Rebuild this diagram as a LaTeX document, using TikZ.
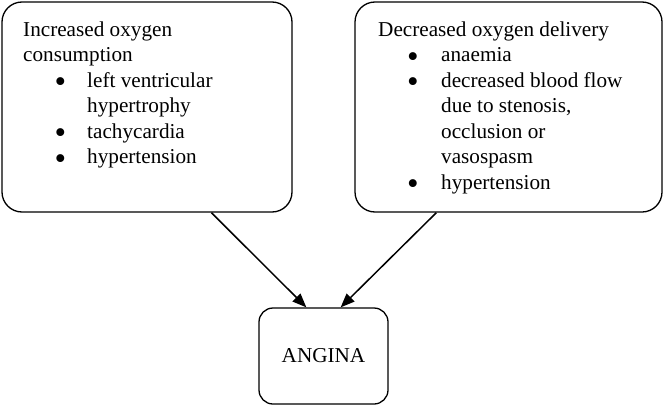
\documentclass[tikz,border=0pt]{standalone}
\usepackage{fontspec}
\setmainfont{Liberation Serif}
\usetikzlibrary{arrows.meta}
\newcommand{\blt}{\smash{\textbullet}}
\begin{document}
\begin{tikzpicture}[x=1pt,y=-1pt,
  box/.style={draw, line width=1.3pt, rounded corners=20pt, inner sep=0pt},
  txt/.style={anchor=base west, inner sep=0pt, font=\fontsize{21.2pt}{25.5pt}\selectfont},
  bul/.style={anchor=base, inner sep=0pt, yshift=-5.5pt, font=\fontsize{33pt}{33pt}\selectfont},
  arr/.style={line width=1.5pt, -{Triangle[length=14pt,width=11pt]}}]
\useasboundingbox (0,0) rectangle (664,407);
\node[box, minimum width=290pt, minimum height=210pt] (L) at (147,107) {};
\node[box, minimum width=307pt, minimum height=210pt] (R) at (508.5,107) {};
\node[box, minimum width=129pt, minimum height=96pt, rounded corners=14pt,
  font=\fontsize{21.2pt}{25pt}\selectfont] (A) at (323.5,356) {ANGINA};
% left text
\node[txt] (l1) at (23,36) {Increased oxygen};
\node[txt] (l2) at (23,61.5) {consumption};
\node[bul] (lb1) at (60.5,87) {\blt};
\node[txt] (l3) at (87,87) {left ventricular};
\node[txt] (l4) at (87,112.5) {hypertrophy};
\node[bul] (lb2) at (60.5,138) {\blt};
\node[txt] (l5) at (87,138) {tachycardia};
\node[bul] (lb3) at (60.5,163.5) {\blt};
\node[txt] (l6) at (87,163.5) {hypertension};
% right text
\node[txt] (r1) at (378,36) {Decreased oxygen delivery};
\node[bul] (rb1) at (413,61.5) {\blt};
\node[txt] (r2) at (441,61.5) {anaemia};
\node[bul] (rb2) at (413,87) {\blt};
\node[txt] (r3) at (441,87) {decreased blood flow};
\node[txt] (r4) at (441,112.5) {due to stenosis,};
\node[txt] (r5) at (441,138) {occlusion or};
\node[txt] (r6) at (441,163.5) {vasospasm};
\node[bul] (rb3) at (413,189) {\blt};
\node[txt] (r7) at (441,189) {hypertension};
% connectors
\coordinate (ls) at ([xshift=210pt]L.south west);
\coordinate (rs) at ([xshift=82pt]R.south west);
\coordinate (ae1) at ([xshift=48pt]A.north west);
\coordinate (ae2) at ([xshift=-48pt]A.north east);
\draw[arr] (ls) -- (ae1);
\draw[arr] (rs) -- (ae2);
\end{tikzpicture}
\end{document}
